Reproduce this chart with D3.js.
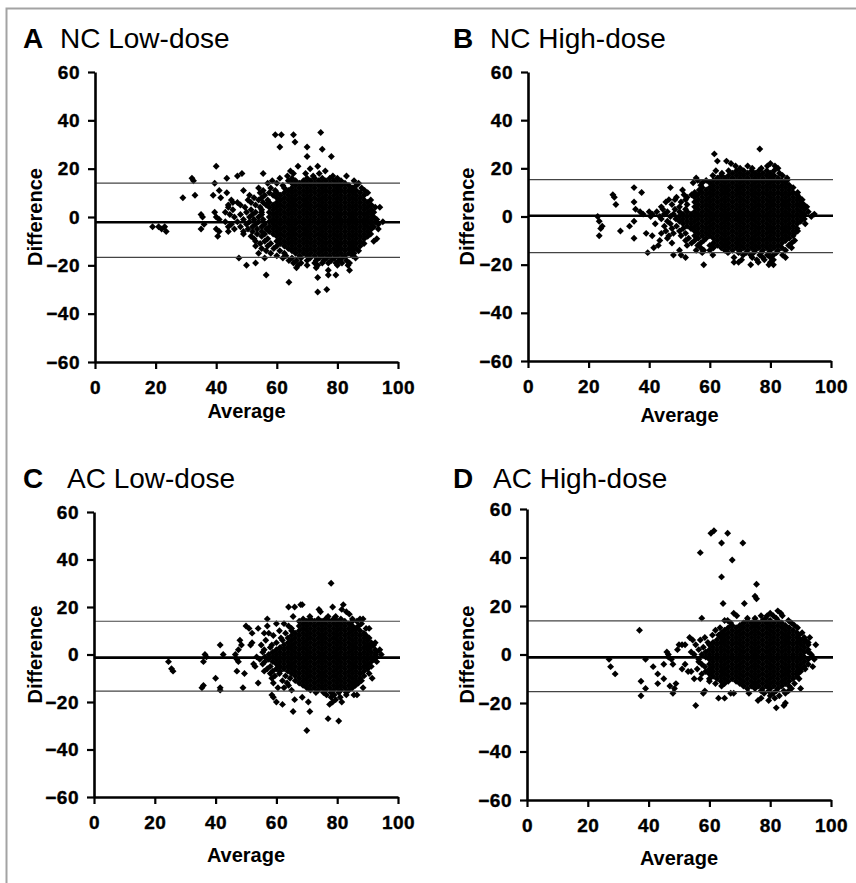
<!DOCTYPE html>
<html lang="en">
<head>
<meta charset="UTF-8">
<title>Bland-Altman plots</title>
<script src="https://d3js.org/d3.v7.min.js"></script>
<style>
    body { margin: 0; background: #fff; }
    svg { display: block; font-family: "Liberation Sans", Arial, sans-serif; }
    .tick text { font-size: 19px; font-weight: bold; fill: #000; stroke: #000; stroke-width: 0.4px; letter-spacing: 0.5px; }
    .axis-title { font-size: 20px; font-weight: bold; }
    .letter { font-size: 28px; font-weight: bold; }
    .title { font-size: 28px; }
</style>
</head>
<body>
<svg width="856" height="883"></svg>
<script>
// each row: [difference, [averages...]]
const ncLowRows = [
  [35, [74.5]], [34, [59.5, 61.5, 65.5]], [31, [66]], [29, [61, 70]], [28, [75]], [25, [70, 78]],
  [21, [40, 67, 73.5]], [20, [71]], [19, [64.5, 76]], [18, [48.5, 55.5, 65.5, 69.5, 74]],
  [17, [47, 63.5, 72, 78.5, 83]],
  [16, [32, 43.5, 61, 65, 70, 72.5, 75, 77.5, 80]],
  [15, [32.5, 58.5, 63.8, 66.2, 68.8, 71.2, 73.8, 76.2, 78.8, 81.2, 85.5]],
  [14, [39.5, 57, 60, 65, 67.5, 70, 72.5, 75, 77.5, 80, 82.5, 87]],
  [13, [62, 66.2, 68.8, 71.2, 73.8, 76.2, 78.8, 81.2, 83.8, 86.2]],
  [12, [54, 58, 62.5, 65, 67.5, 70, 72.5, 75, 77.5, 80, 82.5, 85, 88]],
  [11, [41, 49, 55.5, 59.5, 63.8, 66.2, 68.8, 71.2, 73.8, 76.2, 78.8, 81.2, 83.8, 86.2, 89]],
  [10, [43.5, 54.5, 57.5, 60, 62.5, 65, 67.5, 70, 72.5, 75, 77.5, 80, 82.5, 85, 87.5, 90]],
  [9, [33, 39, 51, 56, 58.8, 61.2, 63.8, 66.2, 68.8, 71.2, 73.8, 76.2, 78.8, 81.2, 83.8, 86.2, 88.8]],
  [8, [29, 41.5, 52.5, 55, 60, 62.5, 65, 67.5, 70, 72.5, 75, 77.5, 80, 82.5, 85, 87.5]],
  [7, [45, 50.5, 54, 57, 61.2, 63.8, 66.2, 68.8, 71.2, 73.8, 76.2, 78.8, 81.2, 83.8, 86.2, 88.8, 91]],
  [6, [45.5, 47, 51.5, 55.5, 57.5, 60, 62.5, 65, 67.5, 70, 72.5, 75, 77.5, 80, 82.5, 85, 87.5, 90]],
  [5, [44, 48, 53, 56.5, 58.8, 61.2, 63.8, 66.2, 68.8, 71.2, 73.8, 76.2, 78.8, 81.2, 83.8, 86.2, 88.8, 91.2]],
  [4, [44, 49.5, 54.5, 57.5, 60, 62.5, 65, 67.5, 70, 72.5, 75, 77.5, 80, 82.5, 85, 87.5, 90, 92.5, 94]],
  [3, [45.5, 51.5, 55, 58.8, 61.2, 63.8, 66.2, 68.8, 71.2, 73.8, 76.2, 78.8, 81.2, 83.8, 86.2, 88.8, 91.2]],
  [2, [39.5, 43, 50, 53, 55, 57.5, 60, 62.5, 65, 67.5, 70, 72.5, 75, 77.5, 80, 82.5, 85, 87.5, 90, 92]],
  [1, [35, 44.5, 48, 52, 55, 58.8, 61.2, 63.8, 66.2, 68.8, 71.2, 73.8, 76.2, 78.8, 81.2, 83.8, 86.2, 88.8, 91.2]],
  [0, [35.5, 40, 46, 51, 54, 57.5, 60, 62.5, 65, 67.5, 70, 72.5, 75, 77.5, 80, 82.5, 85, 87.5, 90, 92]],
  [-1, [41, 49, 52.5, 55.5, 58.8, 61.2, 63.8, 66.2, 68.8, 71.2, 73.8, 76.2, 78.8, 81.2, 83.8, 86.2, 88.8, 91.2, 93]],
  [-2, [43, 47, 51, 54, 57.5, 60, 62.5, 65, 67.5, 70, 72.5, 75, 77.5, 80, 82.5, 85, 87.5, 90, 92.5, 95]],
  [-3, [36, 45, 50, 53, 56, 58.8, 61.2, 63.8, 66.2, 68.8, 71.2, 73.8, 76.2, 78.8, 81.2, 83.8, 86.2, 88.8, 91.2, 93.5]],
  [-4, [19, 21, 23, 44, 48, 52, 55, 57.5, 60, 62.5, 65, 67.5, 70, 72.5, 75, 77.5, 80, 82.5, 85, 87.5, 90, 92]],
  [-5, [22, 35, 40, 46, 50.5, 53.5, 56.5, 58.8, 61.2, 63.8, 66.2, 68.8, 71.2, 73.8, 76.2, 78.8, 81.2, 83.8, 86.2, 88.8, 91.2, 93.5]],
  [-6, [23.5, 41, 44, 49, 52, 55, 57.5, 60, 62.5, 65, 67.5, 70, 72.5, 75, 77.5, 80, 82.5, 85, 87.5, 90]],
  [-7, [49, 53.5, 56, 58.8, 61.2, 63.8, 66.2, 68.8, 71.2, 73.8, 76.2, 78.8, 81.2, 83.8, 86.2, 88.8, 91]],
  [-8, [40.5, 51.5, 55, 60, 62.5, 65, 67.5, 70, 72.5, 75, 77.5, 80, 82.5, 85, 87.5, 90]],
  [-9, [52.5, 57, 61.2, 63.8, 66.2, 68.8, 71.2, 73.8, 76.2, 78.8, 81.2, 83.8, 86.2, 88.8, 93]],
  [-10, [53, 56, 60, 62.5, 65, 67.5, 70, 72.5, 75, 77.5, 80, 82.5, 85, 87.5, 92]],
  [-11, [54.5, 58, 61.2, 63.8, 66.2, 68.8, 71.2, 73.8, 76.2, 78.8, 81.2, 83.8, 86.2, 88.8]],
  [-12, [53, 57, 60, 62.5, 65, 67.5, 70, 72.5, 75, 77.5, 80, 82.5, 85, 87.5]],
  [-13, [55, 59, 63.8, 66.2, 68.8, 71.2, 73.8, 76.2, 78.8, 81.2, 83.8, 86.2]],
  [-14, [56.5, 61, 65, 67.5, 70, 72.5, 75, 77.5, 80, 82.5, 85, 87]],
  [-15, [54, 58, 62.5, 66.2, 68.8, 71.2, 73.8, 76.2, 78.8, 81.2, 83.8, 85.5]],
  [-16, [60, 63, 67.5, 70, 72.5, 75, 77.5, 80, 82.5, 85]],
  [-17, [47.5, 56, 62, 65, 68, 71, 74, 76.5, 79, 81.5, 86]],
  [-18, [64, 66.5, 70, 73, 75.5, 78, 80.5, 83]],
  [-19, [53, 65.5, 68, 72.5, 75, 77, 79.5, 81.5, 84]],
  [-20, [50, 67, 70, 73.5, 80, 83.5]], [-21, [66.5, 73]], [-22, [77, 84]],
  [-24, [56.5, 77, 79.5]], [-25, [73.5]], [-27, [64]], [-30, [76.5]], [-31, [73.5]]
];

const ncHighRows = [
  [28, [76.5]], [26, [61.5]], [23, [62.5, 65.5]], [22, [67, 80]], [21, [68.5, 72.5, 79, 81.5]],
  [20, [70, 74, 77, 82.5]],
  [19, [62, 66.2, 68.8, 71.2, 73.8, 76.2, 78.8, 81.2]],
  [18, [64, 67.5, 70, 72.5, 75, 77.5, 80, 83]],
  [17, [61, 63.8, 66.2, 68.8, 71.2, 73.8, 76.2, 78.8, 81.2, 84]],
  [16, [55.5, 62.5, 65, 67.5, 70, 72.5, 75, 77.5, 80, 82.5, 85.5]],
  [15, [56, 58.8, 61.2, 63.8, 66.2, 68.8, 71.2, 73.8, 76.2, 78.8, 81.2, 83.8, 85.5]],
  [14, [54.5, 57.5, 60, 62.5, 65, 67.5, 70, 72.5, 75, 77.5, 80, 82.5, 85]],
  [13, [57, 61.2, 63.8, 66.2, 68.8, 71.2, 73.8, 76.2, 78.8, 81.2, 83.8, 86.2]],
  [12, [35, 47, 57.5, 60, 62.5, 65, 67.5, 70, 72.5, 75, 77.5, 80, 82.5, 85, 87.5]],
  [11, [51, 56.5, 58.8, 61.2, 63.8, 66.2, 68.8, 71.2, 73.8, 76.2, 78.8, 81.2, 83.8, 86.2]],
  [10, [37.5, 55, 57.5, 60, 62.5, 65, 67.5, 70, 72.5, 75, 77.5, 80, 82.5, 85, 87.5, 89]],
  [9, [28, 51.5, 54, 56.2, 58.8, 61.2, 63.8, 66.2, 68.8, 71.2, 73.8, 76.2, 78.8, 81.2, 83.8, 86.2, 88.8]],
  [8, [28.5, 49, 52.5, 55, 57.5, 60, 62.5, 65, 67.5, 70, 72.5, 75, 77.5, 80, 82.5, 85, 87.5, 89.5]],
  [7, [46.5, 48.5, 52, 56.2, 58.8, 61.2, 63.8, 66.2, 68.8, 71.2, 73.8, 76.2, 78.8, 81.2, 83.8, 86.2, 88.8, 90.5]],
  [6, [35, 45.5, 50.5, 55, 57.5, 60, 62.5, 65, 67.5, 70, 72.5, 75, 77.5, 80, 82.5, 85, 87.5, 90]],
  [5, [29, 47.5, 52.5, 56.2, 58.8, 61.2, 63.8, 66.2, 68.8, 71.2, 73.8, 76.2, 78.8, 81.2, 83.8, 86.2, 88.8, 91]],
  [4, [44, 50, 55, 57.5, 60, 62.5, 65, 67.5, 70, 72.5, 75, 77.5, 80, 82.5, 85, 87.5, 90, 92]],
  [3, [35.5, 44.5, 48.5, 52, 56.2, 58.8, 61.2, 63.8, 66.2, 68.8, 71.2, 73.8, 76.2, 78.8, 81.2, 83.8, 86.2, 88.8, 91.2]],
  [2, [37, 40, 42.5, 46, 50, 52.5, 55, 57.5, 60, 62.5, 65, 67.5, 70, 72.5, 75, 77.5, 80, 82.5, 85, 87.5, 90, 92.5]],
  [1, [38, 41, 45, 48, 51.2, 53.8, 56.2, 58.8, 61.2, 63.8, 66.2, 68.8, 71.2, 73.8, 76.2, 78.8, 81.2, 83.8, 86.2, 88.8, 91.2, 94.5]],
  [0, [23, 40.5, 43.5, 47, 50, 52.5, 55, 57.5, 60, 62.5, 65, 67.5, 70, 72.5, 75, 77.5, 80, 82.5, 85, 87.5, 90, 93.5]],
  [-1, [44, 48.8, 51.2, 53.8, 56.2, 58.8, 61.2, 63.8, 66.2, 68.8, 71.2, 73.8, 76.2, 78.8, 81.2, 83.8, 86.2, 88.8, 91.2]],
  [-2, [23.5, 35, 46, 50, 52.5, 55, 57.5, 60, 62.5, 65, 67.5, 70, 72.5, 75, 77.5, 80, 82.5, 85, 87.5, 90]],
  [-3, [42, 47, 51.2, 53.8, 56.2, 58.8, 61.2, 63.8, 66.2, 68.8, 71.2, 73.8, 76.2, 78.8, 81.2, 83.8, 86.2, 88.8, 91.5]],
  [-4, [24.5, 33.5, 45, 49, 52.5, 55, 57.5, 60, 62.5, 65, 67.5, 70, 72.5, 75, 77.5, 80, 82.5, 85, 87.5]],
  [-5, [24, 47.5, 51.2, 53.8, 56.2, 58.8, 61.2, 63.8, 66.2, 68.8, 71.2, 73.8, 76.2, 78.8, 81.2, 83.8, 86.2, 88.8]],
  [-6, [30.5, 45.5, 50, 55, 57.5, 60, 62.5, 65, 67.5, 70, 72.5, 75, 77.5, 80, 82.5, 85, 87.5, 89]],
  [-7, [39, 44, 48, 52, 56.2, 58.8, 61.2, 63.8, 66.2, 68.8, 71.2, 73.8, 76.2, 78.8, 81.2, 83.8, 86.2, 88]],
  [-8, [23.5, 41, 46.5, 50.5, 55, 57.5, 60, 62.5, 65, 67.5, 70, 72.5, 75, 77.5, 80, 82.5, 85, 87.5]],
  [-9, [35, 46, 53, 56.2, 58.8, 61.2, 63.8, 66.2, 68.8, 71.2, 73.8, 76.2, 78.8, 81.2, 83.8, 86.2]],
  [-10, [43.5, 52, 55, 58, 62.5, 65, 67.5, 70, 72.5, 75, 77.5, 80, 82.5, 85, 88]],
  [-11, [47.5, 54, 57, 61.2, 63.8, 66.2, 68.8, 71.2, 73.8, 76.2, 78.8, 81.2, 83.8, 87]],
  [-12, [43, 52.5, 56, 60, 62.5, 65, 67.5, 70, 72.5, 75, 77.5, 80, 82.5, 86]],
  [-13, [41.5, 57, 61.2, 63.8, 66.2, 68.8, 71.2, 73.8, 76.2, 78.8, 81.2, 83.8, 87]],
  [-14, [50, 55.5, 58, 60, 65, 67.5, 70, 72.5, 75, 77.5, 80, 82.5, 85]],
  [-15, [39.5, 57.5, 66, 69.5, 72, 74.5, 77, 79.5, 82]],
  [-16, [48, 50.5, 61, 71, 73.5, 76.5, 79, 81, 84]],
  [-17, [52, 68, 74, 77.5, 80, 85]], [-18, [70.5, 75.5, 78, 81]],
  [-19, [68, 69.5, 76, 80]], [-20, [58, 73.5, 79.5, 81]]
];

const acLowRows = [
  [30, [78]], [21, [68, 68.5, 82]], [20, [64, 66, 78.5]], [19, [74, 81.5]], [18, [74.5, 83]], [17, [84]],
  [16, [65.5, 71, 77, 79.5]],
  [15, [57, 68.8, 71.2, 73.8, 76.2, 78.8, 81.2, 85, 87.5, 88.5]],
  [14, [67.5, 70, 72.5, 75, 77.5, 80, 82.5, 85, 86.5]],
  [13, [60, 62.5, 68.8, 71.2, 73.8, 76.2, 78.8, 81.2, 83.8, 88]],
  [12, [50, 57, 64, 67.5, 70, 72.5, 75, 77.5, 80, 82.5, 85, 87]],
  [11, [51, 54, 65, 68.8, 71.2, 73.8, 76.2, 78.8, 81.2, 83.8, 86.2, 89.5, 90.5]],
  [10, [61, 65, 67.5, 70, 72.5, 75, 77.5, 80, 82.5, 85, 87.5]],
  [9, [52, 56, 57.5, 63, 66.2, 68.8, 71.2, 73.8, 76.2, 78.8, 81.2, 83.8, 86.2, 88.8]],
  [8, [59, 65, 67.5, 70, 72.5, 75, 77.5, 80, 82.5, 85, 87.5, 89.5]],
  [7, [61.5, 63.8, 66.2, 68.8, 71.2, 73.8, 76.2, 78.8, 81.2, 83.8, 86.2, 88.8, 90.5]],
  [6, [48, 56.5, 62, 65, 67.5, 70, 72.5, 75, 77.5, 80, 82.5, 85, 87.5, 90]],
  [5, [52, 60, 63.8, 66.2, 68.8, 71.2, 73.8, 76.2, 78.8, 81.2, 83.8, 86.2, 88.8, 91.2, 92.5]],
  [4, [41.5, 48.5, 51.5, 55, 58.5, 62.5, 65, 67.5, 70, 72.5, 75, 77.5, 80, 82.5, 85, 87.5, 90, 92]],
  [3, [58, 61.2, 63.8, 66.2, 68.8, 71.2, 73.8, 76.2, 78.8, 81.2, 83.8, 86.2, 88.8, 91]],
  [2, [47.5, 56, 60, 62.5, 65, 67.5, 70, 72.5, 75, 77.5, 80, 82.5, 85, 87.5, 90, 92.5, 94]],
  [1, [55.5, 58.8, 61.2, 63.8, 66.2, 68.8, 71.2, 73.8, 76.2, 78.8, 81.2, 83.8, 86.2, 88.8, 91.2, 93]],
  [0, [36.5, 42.5, 46.5, 57.5, 60, 62.5, 65, 67.5, 70, 72.5, 75, 77.5, 80, 82.5, 85, 87.5, 90, 92.5, 94.5]],
  [-1, [37, 53.5, 56.2, 58.8, 61.2, 63.8, 66.2, 68.8, 71.2, 73.8, 76.2, 78.8, 81.2, 83.8, 86.2, 88.8, 91.2, 93]],
  [-2, [47, 54.5, 57.5, 60, 62.5, 65, 67.5, 70, 72.5, 75, 77.5, 80, 82.5, 85, 87.5, 90, 92]],
  [-3, [24.5, 36, 47.5, 56.2, 58.8, 61.2, 63.8, 66.2, 68.8, 71.2, 73.8, 76.2, 78.8, 81.2, 83.8, 86.2, 88.8, 91.2, 93]],
  [-4, [52.5, 55.5, 60, 62.5, 65, 67.5, 70, 72.5, 75, 77.5, 80, 82.5, 85, 87.5, 90]],
  [-5, [53, 58, 61.2, 63.8, 66.2, 68.8, 71.2, 73.8, 76.2, 78.8, 81.2, 83.8, 86.2, 88.8, 91.2]],
  [-6, [25.5, 57, 60, 62.5, 65, 67.5, 70, 72.5, 75, 77.5, 80, 82.5, 85, 87.5, 90]],
  [-7, [26, 47, 56, 58.8, 61.2, 63.8, 66.2, 68.8, 71.2, 73.8, 76.2, 78.8, 81.2, 83.8, 86.2, 88.8]],
  [-8, [49.5, 58, 61, 65, 67.5, 70, 72.5, 75, 77.5, 80, 82.5, 85, 87.5, 90.5]],
  [-9, [59.5, 63, 66.2, 68.8, 71.2, 73.8, 76.2, 78.8, 81.2, 83.8, 86.2, 88.8]],
  [-10, [40, 58.5, 64.5, 67.5, 70, 72.5, 75, 77.5, 80, 82.5, 85, 87.5, 91.5]],
  [-11, [62, 66.2, 68.8, 71.2, 73.8, 76.2, 78.8, 81.2, 83.8, 86.2, 88]],
  [-12, [54, 59, 63.5, 67.5, 70, 72.5, 75, 77.5, 80, 82.5, 85, 87]],
  [-13, [36, 64, 68.8, 71.2, 73.8, 76.2, 78.8, 81.2, 83.8, 86]],
  [-14, [35.5, 41.5, 49, 60.5, 62.5, 70, 72.5, 75, 77.5, 80, 82.5, 85, 88.5]],
  [-15, [41.5, 65, 71.2, 73.8, 76.2, 78.8, 81.2, 83.8]],
  [-16, [73, 75.5, 78, 80.5, 83]], [-17, [58.5, 76.5, 79, 83, 85.5, 86.5]],
  [-18, [59, 68.5, 78, 81]], [-19, [66, 79.5]], [-20, [60, 70.5, 78.5, 81.5]], [-21, [62, 77.5]],
  [-24, [65.5, 71]], [-27, [77]], [-28, [80.5]], [-32, [70]]
];

const acHighRows = [
  [51, [61.5]], [50, [60.5, 66]], [46, [64, 71]], [42, [57]], [39, [67.5]], [32, [64]], [29, [75.5]],
  [24, [75]], [23, [75.5]], [21, [64.5, 71.5]], [18, [82.5]], [17, [68, 80, 83.5]],
  [16, [69, 77, 79, 81, 84]], [15, [57.5, 72.5, 75, 78.5, 82]],
  [14, [65, 66, 72.5, 75, 77.5, 80, 82.5, 86]],
  [13, [67, 71.2, 73.8, 76.2, 78.8, 81.2, 83.8, 87]],
  [12, [67.5, 70, 72.5, 75, 77.5, 80, 82.5, 85, 88]],
  [11, [63.5, 66.2, 68.8, 71.2, 73.8, 76.2, 78.8, 81.2, 83.8, 86.2, 89]],
  [10, [37, 62, 65, 67.5, 70, 72.5, 75, 77.5, 80, 82.5, 85, 87.5]],
  [9, [64, 66.2, 68.8, 71.2, 73.8, 76.2, 78.8, 81.2, 83.8, 86.2, 88.8, 90.5]],
  [8, [61, 63, 65, 67.5, 70, 72.5, 75, 77.5, 80, 82.5, 85, 87.5, 89.5]],
  [7, [53.5, 58.5, 63.8, 66.2, 68.8, 71.2, 73.8, 76.2, 78.8, 81.2, 83.8, 86.2, 88.8, 91.2, 93]],
  [6, [54.5, 57, 62.5, 65, 67.5, 70, 72.5, 75, 77.5, 80, 82.5, 85, 87.5, 90, 91.5]],
  [5, [59.5, 61.2, 63.8, 66.2, 68.8, 71.2, 73.8, 76.2, 78.8, 81.2, 83.8, 86.2, 88.8, 91.2, 92.5]],
  [4, [50, 51, 52, 55.5, 60, 62.5, 65, 67.5, 70, 72.5, 75, 77.5, 80, 82.5, 85, 87.5, 90, 92.5, 95]],
  [3, [58, 61.2, 63.8, 66.2, 68.8, 71.2, 73.8, 76.2, 78.8, 81.2, 83.8, 86.2, 88.8, 91.2]],
  [2, [49.5, 56.5, 60, 62.5, 65, 67.5, 70, 72.5, 75, 77.5, 80, 82.5, 85, 87.5, 90, 92.5]],
  [1, [46, 54, 58.8, 61.2, 63.8, 66.2, 68.8, 71.2, 73.8, 76.2, 78.8, 81.2, 83.8, 86.2, 88.8, 91.2, 92.5]],
  [0, [46.5, 55, 57.5, 60, 62.5, 65, 67.5, 70, 72.5, 75, 77.5, 80, 82.5, 85, 87.5, 90, 93.5]],
  [-1, [46.5, 58.8, 61.2, 63.8, 66.2, 68.8, 71.2, 73.8, 76.2, 78.8, 81.2, 83.8, 86.2, 88.8, 91.2, 94]],
  [-2, [27, 39, 47.5, 56.5, 60, 62.5, 65, 67.5, 70, 72.5, 75, 77.5, 80, 82.5, 85, 87.5, 90, 92.5, 94.5]],
  [-3, [56.5, 61.2, 63.8, 66.2, 68.8, 71.2, 73.8, 76.2, 78.8, 81.2, 83.8, 86.2, 88.8, 91.2]],
  [-4, [45, 48, 52, 57.5, 60, 62.5, 65, 67.5, 70, 72.5, 75, 77.5, 80, 82.5, 85, 87.5, 90, 92.5]],
  [-5, [27.5, 41.5, 58.5, 61.2, 63.8, 66.2, 68.8, 71.2, 73.8, 76.2, 78.8, 81.2, 83.8, 86.2, 88.8, 91.2, 94]],
  [-6, [51, 56, 60, 62.5, 65, 67.5, 70, 72.5, 75, 77.5, 80, 82.5, 85, 87.5, 90, 91.5]],
  [-7, [53, 54, 58.8, 61.2, 63.8, 66.2, 68.8, 71.2, 73.8, 76.2, 78.8, 81.2, 83.8, 86.2, 88.8, 90]],
  [-8, [29, 43, 57.5, 60, 62.5, 65, 67.5, 70, 72.5, 75, 77.5, 80, 82.5, 85, 87.5, 89]],
  [-9, [61.2, 63.8, 66.2, 68.8, 71.2, 73.8, 76.2, 78.8, 81.2, 83.8, 86.2, 88.8]],
  [-10, [45, 55, 57, 60, 62.5, 65, 67.5, 70, 72.5, 75, 77.5, 80, 82.5, 85, 87.5, 89.5]],
  [-11, [37.5, 60, 63.8, 66.2, 68.8, 71.2, 73.8, 76.2, 78.8, 81.2, 83.8, 86.2]],
  [-12, [43, 49, 62, 65, 70, 72.5, 75, 77.5, 80, 82.5, 85, 88]],
  [-13, [47, 64, 71.2, 73.8, 76.2, 78.8, 81.2, 83.8, 86.2]],
  [-14, [39, 48.5, 72.5, 75, 77.5, 80, 82.5, 87, 90]],
  [-15, [58.5, 77, 79.5, 82, 84.5, 86]], [-16, [48, 58, 67, 68, 73, 78, 81, 85]],
  [-17, [37.5, 80, 83]], [-18, [63, 65, 77, 81.5]], [-19, [76, 79.5]], [-20, [85]],
  [-21, [55.5, 84.5]], [-22, [82]]
];

// [upper limit, mean difference, lower limit]
const ncLowLimits = [14, -2.2, -16.7];
const ncHighLimits = [15.3, 0.3, -15];
const acLowLimits = [14, -1.3, -15.4];
const acHighLimits = [13.9, -1.2, -15.3];

const xTicks = [0, 20, 40, 60, 80, 100];
const yTicks = [-60, -40, -20, 0, 20, 40, 60];
const panelLetters = ["A", "B", "C", "D"];
const panelTitles = ["NC Low-dose", "NC High-dose", "AC Low-dose", "AC High-dose"];

const svg = d3.select("svg");

// outer frame (left and top edges only)
svg.append("path")
    .attr("d", "M6.5,883 V8.5 H856")
    .attr("fill", "none")
    .attr("stroke", "#a3a3a3")
    .attr("stroke-width", 2);

const panels = [
    {rows: ncLowRows, limits: ncLowLimits, left: 95, right: 398, top: 72, bottom: 362, titleY: 48, letterX: 23, titleX: 60, avgY: 418, diffX: 42},
    {rows: ncHighRows, limits: ncHighLimits, left: 528, right: 831, top: 72, bottom: 361, titleY: 48, letterX: 453, titleX: 490, avgY: 422, diffX: 474},
    {rows: acLowRows, limits: acLowLimits, left: 94, right: 398, top: 512, bottom: 797, titleY: 488, letterX: 23, titleX: 67, avgY: 862, diffX: 42},
    {rows: acHighRows, limits: acHighLimits, left: 527, right: 831, top: 509, bottom: 800, titleY: 488, letterX: 453, titleX: 493, avgY: 865, diffX: 474}
];

const diamond = d3.symbol(d3.symbolSquare, 24);

panels.forEach((p, i) => {
    const x = d3.scaleLinear().domain([0, 100]).range([p.left, p.right]);
    const y = d3.scaleLinear().domain([-60, 60]).range([p.bottom, p.top]);
    const g = svg.append("g");

    // panel letter and title
    g.append("text").attr("class", "letter")
        .attr("x", p.letterX).attr("y", p.titleY).text(panelLetters[i]);
    g.append("text").attr("class", "title")
        .attr("x", p.titleX).attr("y", p.titleY).text(panelTitles[i]);

    // points
    const pts = p.rows.flatMap(([d, xs]) => xs.map(a => ({avg: a, diff: d})));
    g.append("g")
        .selectAll("path")
        .data(pts)
        .enter()
        .append("path")
        .attr("d", diamond)
        .attr("transform", d => `translate(${x(d.avg)},${y(d.diff)}) rotate(45)`)
        .attr("fill", "#000");

    // limits of agreement and mean line
    g.append("g")
        .selectAll("line")
        .data(p.limits)
        .enter()
        .append("line")
        .attr("x1", x(0)).attr("x2", x(100) + 2)
        .attr("y1", d => y(d)).attr("y2", d => y(d))
        .attr("stroke", (d, k) => k === 1 ? "#000" : "#444")
        .attr("stroke-width", (d, k) => k === 1 ? 2.6 : 1.2);

    // axes
    const xAxis = g.append("g")
        .attr("transform", `translate(0,${p.bottom})`)
        .call(d3.axisBottom(x).tickValues(xTicks).tickSize(7).tickSizeOuter(0).tickPadding(12));
    const yAxis = g.append("g")
        .attr("transform", `translate(${p.left},0)`)
        .call(d3.axisLeft(y).tickValues(yTicks).tickSize(7).tickSizeOuter(0).tickPadding(8));
    [xAxis, yAxis].forEach(ax => {
        ax.select(".domain").attr("stroke-width", 2.6);
        ax.selectAll(".tick line").attr("stroke-width", 2.2);
        ax.selectAll(".tick text").attr("font-family", null).attr("font-size", null);
    });

    // axis titles
    g.append("text").attr("class", "axis-title")
        .attr("x", (p.left + p.right) / 2).attr("y", p.avgY)
        .attr("text-anchor", "middle").text("Average");
    g.append("text").attr("class", "axis-title")
        .attr("transform", `translate(${p.diffX},${(p.top + p.bottom) / 2}) rotate(-90)`)
        .attr("text-anchor", "middle").text("Difference");
});
</script>
</body>
</html>
